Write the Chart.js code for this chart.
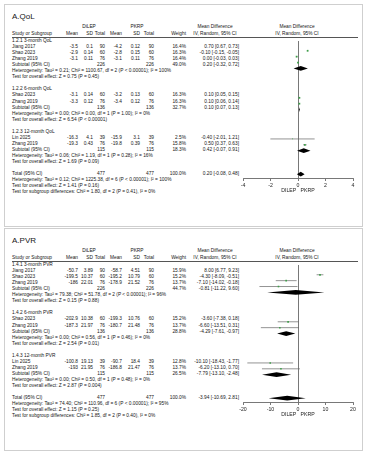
<!DOCTYPE html>
<html><head><meta charset="utf-8">
<script src="https://cdn.jsdelivr.net/npm/chart.js@4/dist/chart.umd.min.js"></script>
<style>
html,body{margin:0;padding:0;background:#fff;}
#root{position:relative;width:372px;height:454px;overflow:hidden;font-family:"Liberation Sans",Arial,sans-serif;color:#161616;}
.t{position:absolute;white-space:nowrap;font-size:4.8px;line-height:1;}
.frame{position:absolute;border:1px solid #cfcfcf;box-sizing:border-box;}
.hl{position:absolute;height:0;border-top:0.8px solid #555;}
canvas{position:absolute;}
</style></head><body><div id="root"></div>
<script>
// ---------------- DATA ----------------
const panelTitles = ['A.QoL', 'A.PVR'];
const armLabels = ['DiLEP', 'PKRP'];
const colHeaders = ['Study or Subgroup', 'Mean', 'SD', 'Total', 'Mean', 'SD', 'Total', 'Weight'];
const effectHeader = ['Mean Difference', 'IV, Random, 95% CI'];
const axisTitle = 'DILEP   PKRP';

// QoL
const qolSubgroupNames = ['1.2.1 3-month QoL', '1.2.2 6-month QoL', '1.2.3 12-month QoL'];
const qolStudyNames = [['Jiang 2017', 'Shao 2023', 'Zhang 2019'], ['Shao 2023', 'Zhang 2019'], ['Lin 2025', 'Zhang 2019']];
const qolDilepMean = [[-3.5, -2.9, -3.1], [-3.1, -3.3], [-16.3, -19.3]];
const qolDilepSD = [[0.1, 0.14, 0.11], [0.14, 0.12], [4.1, 0.43]];
const qolDilepN = [[90, 60, 76], [60, 76], [39, 76]];
const qolPkrpMean = [[-4.2, -2.8, -3.1], [-3.2, -3.4], [-15.9, -19.8]];
const qolPkrpSD = [[0.12, 0.15, 0.11], [0.13, 0.12], [3.1, 0.39]];
const qolPkrpN = [[90, 60, 76], [60, 76], [39, 76]];
const qolWeight = [[16.4, 16.3, 16.4], [16.3, 16.3], [2.5, 15.8]];
const qolMD = [[0.70, -0.10, 0.00], [0.10, 0.10], [-0.40, 0.50]];
const qolLo = [[0.67, -0.15, -0.03], [0.05, 0.06], [-2.01, 0.37]];
const qolHi = [[0.73, -0.05, 0.03], [0.15, 0.14], [1.21, 0.63]];
const qolSubN = [226, 136, 115];
const qolSubWeight = [49.0, 32.7, 18.3];
const qolSubMD = [0.20, 0.10, 0.42];
const qolSubLo = [-0.32, 0.07, -0.07];
const qolSubHi = [0.72, 0.13, 0.91];
const qolSubHet = [
  'Heterogeneity: Tau² = 0.21; Chi² = 1100.67, df = 2 (P < 0.00001); I² = 100%',
  'Heterogeneity: Tau² = 0.00; Chi² = 0.00, df = 1 (P = 1.00); I² = 0%',
  'Heterogeneity: Tau² = 0.06; Chi² = 1.19, df = 1 (P = 0.28); I² = 16%'];
const qolSubTest = ['Test for overall effect: Z = 0.75 (P = 0.45)', 'Test for overall effect: Z = 6.54 (P < 0.00001)', 'Test for overall effect: Z = 1.69 (P = 0.09)'];
const qolTotalN = 477;
const qolTotalWeight = 100.0;
const qolTotalEst = [0.20, -0.08, 0.48];
const qolTotalNotes = [
  'Heterogeneity: Tau² = 0.12; Chi² = 1225.38, df = 6 (P < 0.00001); I² = 100%',
  'Test for overall effect: Z = 1.41 (P = 0.16)',
  'Test for subgroup differences: Chi² = 1.80, df = 2 (P = 0.41), I² = 0%'];
const qolTicks = [-4, -2, 0, 2, 4];

// PVR
const pvrSubgroupNames = ['1.4.1 3-month PVR', '1.4.2 6-month PVR', '1.4.3 12-month PVR'];
const pvrStudyNames = [['Jiang 2017', 'Shao 2023', 'Zhang 2019'], ['Shao 2023', 'Zhang 2019'], ['Lin 2025', 'Zhang 2019']];
const pvrDilepMean = [[-50.7, -199.5, -186], [-202.9, -187.3], [-100.8, -193]];
const pvrDilepSD = [[3.89, 10.37, 22.01], [10.38, 21.97], [19.13, 21.95]];
const pvrDilepN = [[90, 60, 76], [60, 76], [39, 76]];
const pvrPkrpMean = [[-58.7, -195.2, -178.9], [-199.3, -180.7], [-90.7, -186.8]];
const pvrPkrpSD = [[4.51, 10.79, 21.52], [10.76, 21.48], [18.4, 21.47]];
const pvrPkrpN = [[90, 60, 76], [60, 76], [39, 76]];
const pvrWeight = [[15.9, 15.2, 13.7], [15.2, 13.7], [12.8, 13.7]];
const pvrMD = [[8.00, -4.30, -7.10], [-3.60, -6.60], [-10.10, -6.20]];
const pvrLo = [[6.77, -8.09, -14.02], [-7.38, -13.51], [-18.43, -13.10]];
const pvrHi = [[9.23, -0.51, -0.18], [0.18, 0.31], [-1.77, 0.70]];
const pvrSubN = [226, 136, 115];
const pvrSubWeight = [44.7, 28.8, 26.5];
const pvrSubMD = [-0.81, -4.29, -7.79];
const pvrSubLo = [-11.22, -7.61, -13.10];
const pvrSubHi = [9.60, -0.97, -2.48];
const pvrSubHet = [
  'Heterogeneity: Tau² = 79.38; Chi² = 51.78, df = 2 (P < 0.00001); I² = 96%',
  'Heterogeneity: Tau² = 0.00; Chi² = 0.56, df = 1 (P = 0.46); I² = 0%',
  'Heterogeneity: Tau² = 0.00; Chi² = 0.50, df = 1 (P = 0.48); I² = 0%'];
const pvrSubTest = ['Test for overall effect: Z = 0.15 (P = 0.88)', 'Test for overall effect: Z = 2.54 (P = 0.01)', 'Test for overall effect: Z = 2.87 (P = 0.004)'];
const pvrTotalN = 477;
const pvrTotalWeight = 100.0;
const pvrTotalEst = [-3.94, -10.69, 2.81];
const pvrTotalNotes = [
  'Heterogeneity: Tau² = 74.40; Chi² = 110.96, df = 6 (P < 0.00001); I² = 95%',
  'Test for overall effect: Z = 1.15 (P = 0.25)',
  'Test for subgroup differences: Chi² = 1.85, df = 2 (P = 0.40), I² = 0%'];
const pvrTicks = [-20, -10, 0, 10, 20];

// ---------------- LAYOUT ----------------
const root = document.getElementById('root');
function txt(s, x, y, align, opt) {
  opt = opt || {};
  const d = document.createElement('div');
  d.className = 't';
  d.textContent = s;
  d.style.left = x + 'px';
  d.style.top = y + 'px';
  const dx = align === 'right' ? '-100%' : align === 'center' ? '-50%' : '0';
  d.style.transform = 'translate(' + dx + ',-50%)';
  if (opt.size) d.style.fontSize = opt.size + 'px';
  if (opt.weight) d.style.fontWeight = opt.weight;
  root.appendChild(d);
}
const COL = {mean1: 78, sd1: 93, n1: 105, mean2: 122, sd2: 140, n2: 154, w: 186, ci: 239};
const PLOT = {left: 243, right: 353};
const STEP = 6.05;
const f2 = v => v.toFixed(2);
const ciText = (m, l, h) => f2(m) + ' [' + f2(l) + ', ' + f2(h) + ']';

const diamondPlugin = {
  id: 'diamonds',
  afterDatasetsDraw(chart, args, opts) {
    const ctx = chart.ctx, x = chart.scales.x, y = chart.scales.y;
    ctx.save();
    (opts.items || []).forEach(d => {
      const yc = y.getPixelForValue(d.row), h = opts.half;
      ctx.beginPath();
      ctx.moveTo(x.getPixelForValue(d.lo), yc);
      ctx.lineTo(x.getPixelForValue(d.md), yc - h);
      ctx.lineTo(x.getPixelForValue(d.hi), yc);
      ctx.lineTo(x.getPixelForValue(d.md), yc + h);
      ctx.closePath();
      ctx.fillStyle = '#000';
      ctx.fill();
    });
    ctx.restore();
  }
};

function panel(P) {
  const off = P.off;
  const fr = document.createElement('div');
  fr.className = 'frame';
  fr.style.left = '4px'; fr.style.top = (4 + off) + 'px';
  fr.style.width = '359px'; fr.style.height = '223px';
  root.appendChild(fr);

  txt(P.title, 12, 17 + off, 'left', {size: 8});
  txt(armLabels[0], 89, 27 + off, 'center');
  txt(armLabels[1], 137, 27 + off, 'center');
  txt(effectHeader[0], 215, 27 + off, 'center');
  txt(effectHeader[0], 297, 27 + off, 'center');
  const hy = 33.5 + off;
  txt(colHeaders[0], 12, hy, 'left');
  txt(colHeaders[1], COL.mean1, hy, 'right');
  txt(colHeaders[2], COL.sd1, hy, 'right');
  txt(colHeaders[3], COL.n1, hy, 'right');
  txt(colHeaders[4], COL.mean2, hy, 'right');
  txt(colHeaders[5], COL.sd2, hy, 'right');
  txt(colHeaders[6], COL.n2, hy, 'right');
  txt(colHeaders[7], COL.w, hy, 'right');
  txt(effectHeader[1], 215, hy, 'center');
  txt(effectHeader[1], 297, hy, 'center');
  const lineY = 37 + off;
  const hl = document.createElement('div');
  hl.className = 'hl';
  hl.style.left = '12px'; hl.style.width = '346px'; hl.style.top = lineY + 'px';
  root.appendChild(hl);

  const y0 = 41 + off;
  const rowY = r => y0 + r * STEP;
  let r = 0;
  const studies = [], diamonds = [];
  P.subNames.forEach((sg, g) => {
    txt(sg, 12, rowY(r), 'left'); r++;
    P.names[g].forEach((nm, i) => {
      const y = rowY(r);
      txt(nm, 12, y, 'left');
      txt(String(P.m1[g][i]), COL.mean1, y, 'right');
      txt(String(P.sd1[g][i]), COL.sd1, y, 'right');
      txt(String(P.n1[g][i]), COL.n1, y, 'right');
      txt(String(P.m2[g][i]), COL.mean2, y, 'right');
      txt(String(P.sd2[g][i]), COL.sd2, y, 'right');
      txt(String(P.n2[g][i]), COL.n2, y, 'right');
      txt(P.w[g][i].toFixed(1) + '%', COL.w, y, 'right');
      txt(ciText(P.md[g][i], P.lo[g][i], P.hi[g][i]), COL.ci, y, 'right');
      studies.push({row: r, md: P.md[g][i], lo: P.lo[g][i], hi: P.hi[g][i], w: P.w[g][i]});
      r++;
    });
    let y = rowY(r);
    txt('Subtotal (95% CI)', 12, y, 'left');
    txt(String(P.subN[g]), COL.n1, y, 'right');
    txt(String(P.subN[g]), COL.n2, y, 'right');
    txt(P.subW[g].toFixed(1) + '%', COL.w, y, 'right');
    txt(ciText(P.subMD[g], P.subLo[g], P.subHi[g]), COL.ci, y, 'right');
    diamonds.push({row: r, md: P.subMD[g], lo: P.subLo[g], hi: P.subHi[g]});
    r++;
    txt(P.subHet[g], 12, rowY(r), 'left'); r++;
    txt(P.subTest[g], 12, rowY(r), 'left'); r++;
    r++;
  });
  let y = rowY(r);
  txt('Total (95% CI)', 12, y, 'left');
  txt(String(P.totN), COL.n1, y, 'right');
  txt(String(P.totN), COL.n2, y, 'right');
  txt(P.totW.toFixed(1) + '%', COL.w, y, 'right');
  txt(ciText(P.totEst[0], P.totEst[1], P.totEst[2]), COL.ci, y, 'right');
  diamonds.push({row: r, md: P.totEst[0], lo: P.totEst[1], hi: P.totEst[2]});
  const totalRow = r;
  r++;
  P.totNotes.forEach(s => { txt(s, 12, rowY(r), 'left'); r++; });

  // chart
  const axisY = rowY(totalRow) + 3.5;
  const axisH = 16;
  const pad = 8;
  const cv = document.createElement('canvas');
  const W = PLOT.right - PLOT.left + 2 * pad;
  const H = Math.round(axisY - lineY) + axisH;
  cv.width = W; cv.height = H;
  cv.style.left = (PLOT.left - pad) + 'px';
  cv.style.top = lineY + 'px';
  cv.style.width = W + 'px'; cv.style.height = H + 'px';
  root.appendChild(cv);
  const rMin = (lineY - y0) / STEP;
  const rMax = (lineY + (H - axisH) - y0) / STEP;

  const datasets = studies.map(s => ({
    type: 'line', data: [{x: s.lo, y: s.row}, {x: s.hi, y: s.row}],
    borderColor: '#666', borderWidth: 0.7, pointRadius: 0, order: 2
  }));
  datasets.push({
    type: 'scatter', data: studies.map(s => ({x: s.md, y: s.row})),
    pointStyle: 'rect', pointRadius: studies.map(s => 0.5 + s.w / 22),
    backgroundColor: '#3f9f4a', borderWidth: 0, order: 1
  });
  const ticks = P.ticks;
  new Chart(cv, {
    data: {datasets},
    plugins: [diamondPlugin],
    options: {
      responsive: false, animation: false, events: [],
      devicePixelRatio: 1,
      layout: {padding: {left: pad, right: pad, top: 0, bottom: 0}},
      plugins: {legend: {display: false}, tooltip: {enabled: false}, diamonds: {items: diamonds, half: 2.4}},
      scales: {
        x: {
          type: 'linear', position: 'bottom', min: ticks[0], max: ticks[ticks.length - 1],
          afterBuildTicks: s => { s.ticks = ticks.map(v => ({value: v})); },
          afterFit: s => { s.height = axisH; },
          ticks: {font: {size: 5.2, family: 'Liberation Sans'}, color: '#222', padding: 1, autoSkip: false, maxRotation: 0},
          grid: {color: c => (c.tick && c.tick.value === 0) ? '#555' : 'rgba(0,0,0,0)', lineWidth: 0.8, tickColor: '#555', tickLength: 3, drawOnChartArea: true},
          border: {display: true, color: '#555', width: 0.8},
          title: {display: true, text: axisTitle, font: {size: 5.2, family: 'Liberation Sans'}, color: '#222', padding: {top: 0, bottom: 0}}
        },
        y: {type: 'linear', display: false, reverse: true, min: rMin, max: rMax}
      }
    }
  });
}

panel({off: 0, title: panelTitles[0], subNames: qolSubgroupNames, names: qolStudyNames,
  m1: qolDilepMean, sd1: qolDilepSD, n1: qolDilepN, m2: qolPkrpMean, sd2: qolPkrpSD, n2: qolPkrpN,
  w: qolWeight, md: qolMD, lo: qolLo, hi: qolHi, subN: qolSubN, subW: qolSubWeight,
  subMD: qolSubMD, subLo: qolSubLo, subHi: qolSubHi, subHet: qolSubHet, subTest: qolSubTest,
  totN: qolTotalN, totW: qolTotalWeight, totEst: qolTotalEst, totNotes: qolTotalNotes, ticks: qolTicks});
panel({off: 224, title: panelTitles[1], subNames: pvrSubgroupNames, names: pvrStudyNames,
  m1: pvrDilepMean, sd1: pvrDilepSD, n1: pvrDilepN, m2: pvrPkrpMean, sd2: pvrPkrpSD, n2: pvrPkrpN,
  w: pvrWeight, md: pvrMD, lo: pvrLo, hi: pvrHi, subN: pvrSubN, subW: pvrSubWeight,
  subMD: pvrSubMD, subLo: pvrSubLo, subHi: pvrSubHi, subHet: pvrSubHet, subTest: pvrSubTest,
  totN: pvrTotalN, totW: pvrTotalWeight, totEst: pvrTotalEst, totNotes: pvrTotalNotes, ticks: pvrTicks});
</script></body></html>
